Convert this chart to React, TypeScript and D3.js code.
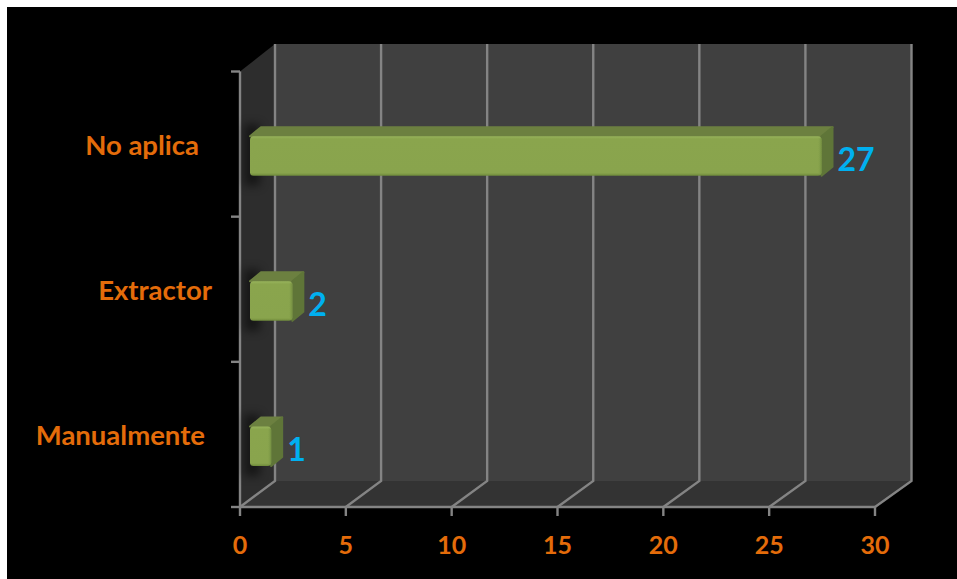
import React from "react";
import * as d3 from "d3";

const categories = ["No aplica", "Extractor", "Manualmente"];
const values = [27, 2, 1];
const xTicks = [0, 5, 10, 15, 20, 25, 30];
const catLabelAnchors = [199, 212, 205];
const catLabelY = [155, 300, 445];

const W = 957, H = 579;
const FRONT_TOP = 71.5, FRONT_BOTTOM = 507, BACK_TOP = 44, BACK_BOTTOM = 481;
const x = d3.scaleLinear().domain([0, 30]).range([240, 875]);
const xBack = d3.scaleLinear().domain([0, 30]).range([275, 911.5]);
const y = d3.scaleBand().domain(categories).range([FRONT_TOP, FRONT_BOTTOM]);
const BAR_OFF_X = 10, BAR_BOTTOM_GAP = 41;
const BAR_H = 39.5, BAR_DX = 11, BAR_DY = -9;
const font = "Lato, Carlito, 'Open Sans', sans-serif";
const orange = "#E46C0A";
const blue = "#00B0F0";
const axis = "#848484";
const LINE_W = 2.4;

const pts = (a: number[][]) => a.map(p => p.join(",")).join(" ");

export default function App() {
  const yTicks = [...categories.map(c => y(c)!), FRONT_BOTTOM];
  return (
    <svg width={W} height={H} style={{ position: "absolute", left: 0, top: 0, background: "#fff" }}>
      <defs>
        <linearGradient id="front" x1="0" y1="0" x2="0" y2="1">
          <stop offset="0" stopColor="#98B45B" />
          <stop offset="0.07" stopColor="#8AA54E" />
          <stop offset="0.93" stopColor="#89A44D" />
          <stop offset="1" stopColor="#6E8A3B" />
        </linearGradient>
        <linearGradient id="endcap" x1="0" y1="0" x2="1" y2="0">
          <stop offset="0" stopColor="#8AA54E" stopOpacity={0} />
          <stop offset="1" stopColor="#728E40" />
        </linearGradient>
        <filter id="soft" x="-100%" y="-50%" width="300%" height="200%">
          <feGaussianBlur stdDeviation="5" />
        </filter>
        <filter id="edge" x="-5%" y="-20%" width="110%" height="140%">
          <feGaussianBlur stdDeviation="0.7" />
        </filter>
      </defs>
      <rect x={7} y={7} width={W - 7} height={H - 7} fill="#000" />

      {/* walls */}
      <polygon points={pts([[xBack(0), BACK_TOP], [xBack(30), BACK_TOP], [xBack(30), BACK_BOTTOM], [xBack(0), BACK_BOTTOM]])} fill="#404040" />
      <polygon points={pts([[x(0), FRONT_TOP], [xBack(0), BACK_TOP], [xBack(0), BACK_BOTTOM], [x(0), FRONT_BOTTOM]])} fill="#2D2D2D" />
      <polygon points={pts([[x(0), FRONT_BOTTOM], [x(30), FRONT_BOTTOM], [xBack(30), BACK_BOTTOM], [xBack(0), BACK_BOTTOM]])} fill="#333333" />

      {/* gridlines */}
      {xTicks.map(t => (
        <g key={t} stroke={axis} strokeWidth={LINE_W} fill="none">
          <polyline points={pts([[x(t), FRONT_BOTTOM], [xBack(t), BACK_BOTTOM], [xBack(t), BACK_TOP]])} />
          <line x1={x(t)} x2={x(t)} y1={FRONT_BOTTOM} y2={516} />
        </g>
      ))}
      <line x1={x(0)} x2={x(30)} y1={FRONT_BOTTOM} y2={FRONT_BOTTOM} stroke={axis} strokeWidth={LINE_W} />
      <line x1={x(0)} x2={x(0)} y1={FRONT_TOP} y2={FRONT_BOTTOM} stroke={axis} strokeWidth={LINE_W} />
      {yTicks.map(t => (
        <line key={t} x1={231} x2={x(0)} y1={t} y2={t} stroke={axis} strokeWidth={LINE_W} />
      ))}

      {/* bars */}
      {categories.map((c, i) => {
        const x0 = x(0) + BAR_OFF_X;
        const x1 = x(values[i]) + BAR_OFF_X;
        const yb = y(c)! + y.bandwidth() - BAR_BOTTOM_GAP;
        const yt = yb - BAR_H;
        return (
          <g key={c}>
            <rect x={x0 - 6} y={yt - 12} width={16} height={BAR_H + 22} fill="#000" opacity={0.5} filter="url(#soft)" />
            <g filter="url(#edge)">
              <polygon points={pts([[x0, yt], [x0 + BAR_DX, yt + BAR_DY], [x1 + BAR_DX, yt + BAR_DY], [x1, yt]])} fill="#6C8040" stroke="#6C8040" strokeWidth={2} strokeLinejoin="round" />
              <polygon points={pts([[x1, yt], [x1 + BAR_DX, yt + BAR_DY], [x1 + BAR_DX, yb + BAR_DY], [x1, yb]])} fill="#5F7538" stroke="#5F7538" strokeWidth={2} strokeLinejoin="round" />
              <rect x={x0} y={yt} width={x1 - x0} height={BAR_H} rx={3.5} fill="url(#front)" />
              <rect x={x1 - 4} y={yt + 2} width={4} height={BAR_H - 4} rx={1} fill="url(#endcap)" />
            </g>
            <text x={x1 + BAR_DX + 5} y={yb - 5} fontFamily={font} fontWeight={700} fontSize={32} fill={blue}>{values[i]}</text>
          </g>
        );
      })}

      {/* labels */}
      {categories.map((c, i) => (
        <text key={c} x={catLabelAnchors[i]} y={catLabelY[i]} textAnchor="end" fontFamily={font} fontWeight={700} fontSize={27.5} fill={orange}>{c}</text>
      ))}
      {xTicks.map(t => (
        <text key={t} x={x(t)} y={554} textAnchor="middle" fontFamily={font} fontWeight={700} fontSize={25} fill={orange}>{t}</text>
      ))}
    </svg>
  );
}
